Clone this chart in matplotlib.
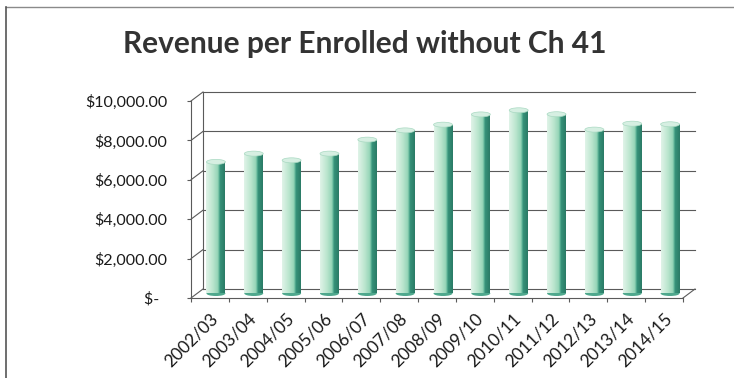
import numpy as np
from matplotlib import pyplot as plt
from matplotlib.colors import LinearSegmentedColormap
from matplotlib.patches import Ellipse
from matplotlib.lines import Line2D

years = ["2002/03", "2003/04", "2004/05", "2005/06", "2006/07", "2007/08", "2008/09",
         "2009/10", "2010/11", "2011/12", "2012/13", "2013/14", "2014/15"]
revenue = [6680, 7100, 6760, 7100, 7810, 8280, 8570, 9090, 9300, 9100, 8320, 8620, 8590]
yticks = [0, 2000, 4000, 6000, 8000, 10000]
ylabels = ["$-  ", "$2,000.00", "$4,000.00", "$6,000.00", "$8,000.00", "$10,000.00"]

W, H = 734, 378
font = "Lato"
grid_col = "#5a5a5a"

fig = plt.figure(figsize=(W / 100, H / 100), dpi=100)
# front plane of the 3d box, in pixels
left, right, top, bottom = 191, 683, 101, 298
ax = fig.add_axes([left / W, (H - bottom) / H, (right - left) / W, (bottom - top) / H])
n = len(years)
ax.set_xlim(-0.5, n - 0.5)
ax.set_ylim(0, 10000)

# depth of the box (back wall offset), in data units
px_x = (right - left) / n
px_y = (bottom - top) / 10000
DX = 12 / px_x
DY = 9 / px_y

# back wall gridlines + side wall connectors
for v in yticks:
    ax.plot([-0.5 + DX, n - 0.5 + DX], [v + DY, v + DY], color=grid_col, lw=0.8, zorder=1, clip_on=False)
    ax.plot([-0.5, -0.5 + DX], [v, v + DY], color=grid_col, lw=0.8, zorder=1, clip_on=False)
ax.plot([-0.5 + DX, -0.5 + DX], [DY, 10000 + DY], color=grid_col, lw=0.8, zorder=1, clip_on=False)
ax.plot([n - 0.5, n - 0.5 + DX], [0, DY], color=grid_col, lw=0.8, zorder=1, clip_on=False)

# cylinder bars
cmap = LinearSegmentedColormap.from_list("cyl", [
    (0.0, "#e0f3e8"), (0.35, "#bce6cf"), (0.62, "#96d5b8"),
    (0.70, "#5cb396"), (0.74, "#37937a"), (1.0, "#2a7b66")])
grad = np.linspace(0, 1, 64).reshape(1, -1)
bw = 0.5
xs = np.arange(n) + DX / 2
bars = ax.bar(xs, revenue, width=bw, bottom=DY / 2, color="none", edgecolor="none", zorder=3)
eh = 5 / px_y
for rect, x, v in zip(bars, xs, revenue):
    im = ax.imshow(grad, extent=[x - bw / 2, x + bw / 2, DY / 2, DY / 2 + v], aspect="auto",
                   cmap=cmap, zorder=3, interpolation="bilinear")
    im.set_clip_path(rect)
    ax.add_patch(Ellipse((x, DY / 2 + v), bw, eh, facecolor="#d6efe2", edgecolor="#a9d9c2",
                         lw=0.5, zorder=4))
    ax.add_patch(Ellipse((x, DY / 2), bw, eh, facecolor="#4fa88d", edgecolor="none", zorder=2.9))
ax.set_xlim(-0.5, n - 0.5)
ax.set_ylim(0, 10000)

for s in ["top", "right"]:
    ax.spines[s].set_visible(False)
for s in ["left", "bottom"]:
    ax.spines[s].set_color(grid_col)
    ax.spines[s].set_linewidth(0.8)

ax.set_yticks(yticks)
ax.set_yticklabels(ylabels, fontsize=11.5, family=font, color="#1a1a1a")
ax.tick_params(axis="y", length=3, width=0.8, color=grid_col, pad=14)
ax.set_xticks(np.arange(n))
ax.set_xticklabels(years, rotation=45, ha="right", rotation_mode="anchor", fontsize=12.5,
                   family=font, color="#1a1a1a")
ax.tick_params(axis="x", length=0, pad=9)
ax.set_xticks(np.arange(n + 1) - 0.5, minor=True)
ax.tick_params(axis="x", which="minor", length=3, width=0.8, color=grid_col)
ax.set_facecolor("none")

fig.text(365 / W, 1 - 44 / H, "Revenue per Enrolled without Ch 41", ha="center", va="center",
         fontsize=21.5, fontweight="bold", family=font, color="#333333")

# outer chart border (top and left only visible)
fig.add_artist(Line2D([6 / W, 1], [1 - 7 / H, 1 - 7 / H], color="#8a8a8a", lw=1))
fig.add_artist(Line2D([6 / W, 6 / W], [0, 1 - 7 / H], color="#555555", lw=1.2))

fig.savefig("out.png", dpi=100)
